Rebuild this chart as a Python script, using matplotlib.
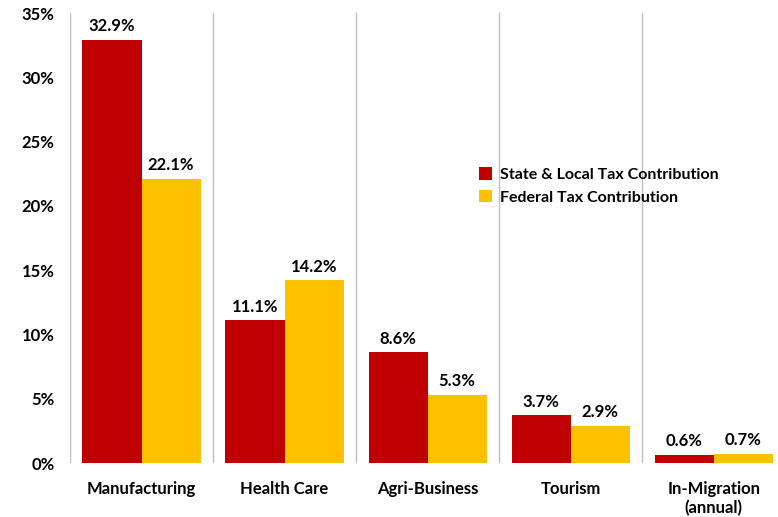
import numpy as np
import matplotlib
matplotlib.use('Agg')
import matplotlib.pyplot as plt

categories = ['Manufacturing', 'Health Care', 'Agri-Business', 'Tourism', 'In-Migration\n(annual)']
state_local = [32.9, 11.1, 8.6, 3.7, 0.6]
federal = [22.1, 14.2, 5.3, 2.9, 0.7]
y_ticks = [0, 5, 10, 15, 20, 25, 30, 35]

red = '#C00000'
yellow = '#FFC000'

plt.rcParams['font.family'] = ['Lato', 'DejaVu Sans']
plt.rcParams['font.weight'] = 'bold'

fig = plt.figure(figsize=(7.78, 5.17), dpi=100)
ax = fig.add_axes([70 / 778, 54 / 517, 708 / 778, 450 / 517])

x = np.arange(len(categories))
w = 0.413
b1 = ax.bar(x - w / 2, state_local, w, color=red, label='State & Local Tax Contribution')
b2 = ax.bar(x + w / 2, federal, w, color=yellow, label='Federal Tax Contribution')

for bars, vals in [(b1, state_local), (b2, federal)]:
    for bar, v in zip(bars, vals):
        ax.text(bar.get_x() + bar.get_width() / 2, v + 0.45, f'{v:.1f}%',
                ha='center', va='bottom', fontsize=12, fontweight='bold', color='#000000')

# separators between the groups
for pos in np.arange(-0.5, len(categories) - 1, 1.0):
    ax.axvline(pos, color='#BFBFBF', linewidth=1, zorder=0)

ax.set_xlim(-0.5, 4.45)
ax.set_ylim(0, 35)
ax.set_yticks(y_ticks)
ax.set_yticklabels([f'{t}%' for t in y_ticks], fontsize=12, fontweight='bold')
ax.set_xticks(x)
ax.set_xticklabels(categories, fontsize=12, fontweight='bold')
ax.tick_params(length=0)
ax.tick_params(axis='y', pad=11)
ax.tick_params(axis='x', pad=13)
for s in ax.spines.values():
    s.set_visible(False)

ax.legend(loc='upper left', bbox_to_anchor=(395 / 708, 310 / 450), frameon=False,
          handlelength=0.8, handleheight=0.8, handletextpad=0.5,
          labelspacing=0.5, prop={'weight': 'bold', 'size': 11.5})

fig.savefig('out.png', dpi=100)
